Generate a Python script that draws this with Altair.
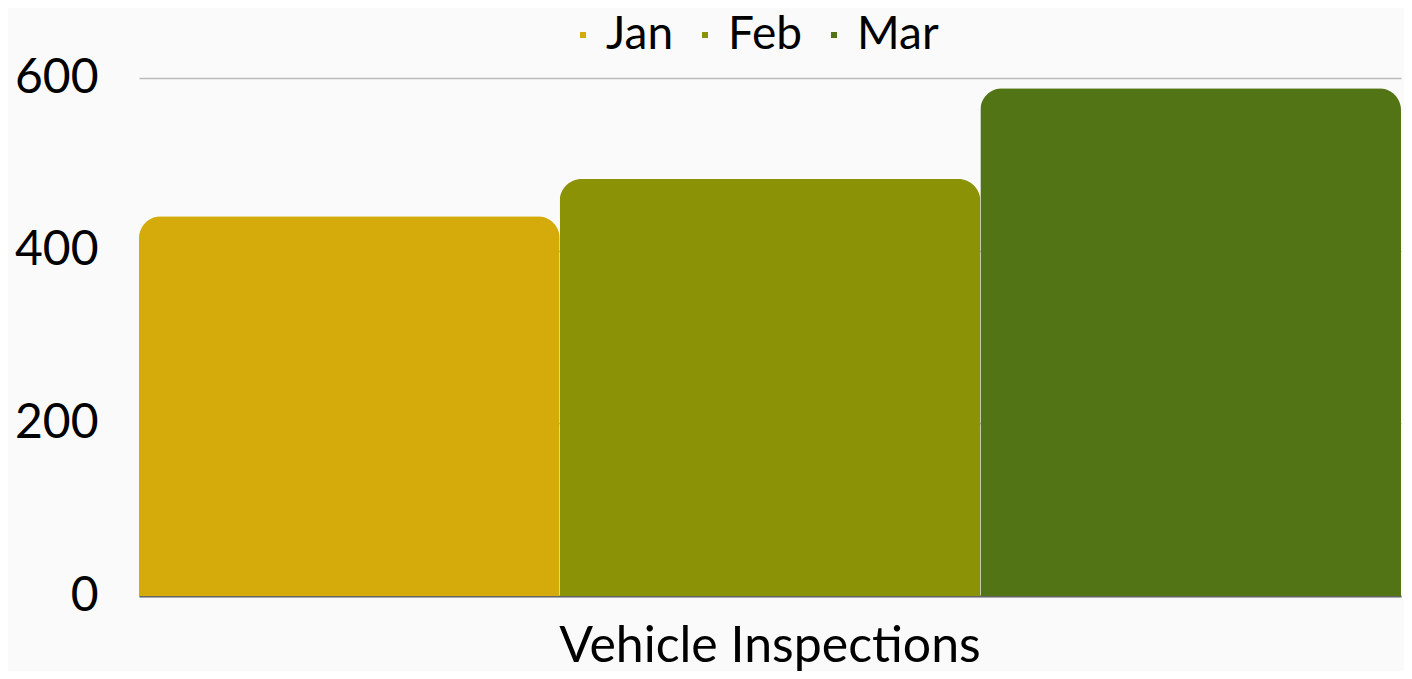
import altair as alt
import pandas as pd

category = ["Vehicle Inspections"]
months = ["Jan", "Feb", "Mar"]
values = [440, 483, 588]
colors = ["#d4ab0a", "#8c9206", "#527415"]

df = pd.DataFrame({
    "category": category * len(months),
    "month": months,
    "value": values,
})

FONT = "Lato"

chart = alt.Chart(df).mark_bar(
    cornerRadiusTopLeft=22, cornerRadiusTopRight=22
).encode(
    x=alt.X("category:N", title=None,
            scale=alt.Scale(paddingInner=0, paddingOuter=0),
            axis=alt.Axis(labelAngle=0, labelFontSize=50, labelFont=FONT, labelLimit=0,
                          labelColor="#000000", ticks=False, domainColor="#666666",
                          domainWidth=2, labelPadding=25)),
    xOffset=alt.XOffset("month:N", sort=months,
                        scale=alt.Scale(paddingInner=0, paddingOuter=0)),
    y=alt.Y("value:Q", title=None,
            scale=alt.Scale(domain=[0, 600]),
            axis=alt.Axis(values=[0, 200, 400, 600], labelFontSize=48, labelFont=FONT,
                          labelColor="#000000", ticks=False, domain=False,
                          gridColor="#bbbbbb", gridWidth=1.5, labelPadding=41)),
    color=alt.Color("month:N", sort=months,
                    scale=alt.Scale(domain=months, range=colors),
                    legend=alt.Legend(orient="none", legendX=413, legendY=-66,
                                      direction="horizontal", title=None,
                                      symbolType="square", symbolSize=36,
                                      labelFontSize=46, labelFont=FONT, labelColor="#000000",
                                      symbolOffset=8, columnPadding=0, labelOffset=0,
                                      labelLimit=0)),
).properties(
    width=1262, height=518,
    background="#fafafa",
    padding={"left": 131, "top": 70, "right": 3, "bottom": 75},
    autosize=alt.AutoSizeParams(type="none"),
).configure_view(stroke=None)

chart.save("out.html", embed_options={"renderer": "svg", "actions": False})
